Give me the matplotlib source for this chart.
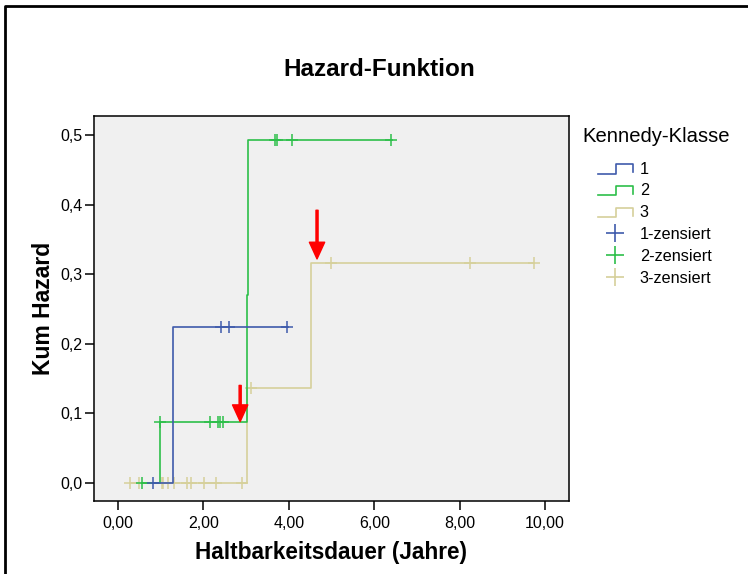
import numpy as np
import matplotlib
matplotlib.use("Agg")
import matplotlib.pyplot as plt
from matplotlib.lines import Line2D
from matplotlib.legend_handler import HandlerBase

plt.rcParams['font.family'] = ['Liberation Sans', 'DejaVu Sans']

# ---- data ----
classes = ['1', '2', '3']
step_t1 = [0.82, 1.28, 3.98]
step_h1 = [0.0, 0.224, 0.224]
step_t2 = [0.57, 0.99, 3.02, 3.04, 6.42]
step_h2 = [0.0, 0.088, 0.27, 0.493, 0.493]
step_t3 = [0.27, 3.02, 4.52, 9.74]
step_h3 = [0.0, 0.136, 0.316, 0.316]
cens_t1 = [0.82, 2.41, 2.60, 3.96]
cens_t2 = [0.57, 0.99, 2.15, 2.33, 2.38, 2.45, 3.68, 3.72, 4.07, 6.40]
cens_t3 = [0.27, 0.49, 1.03, 1.06, 1.17, 1.31, 1.62, 1.71, 2.01, 2.30, 2.90,
           3.11, 4.99, 8.24, 9.74]
arrow_x = [2.86, 4.66]
arrow_tail_y = [0.14, 0.392]
arrow_tip_y = [0.088, 0.322]
xticks = [0, 2, 4, 6, 8, 10]
xticklabels = ['0,00', '2,00', '4,00', '6,00', '8,00', '10,00']
yticks = [0.0, 0.1, 0.2, 0.3, 0.4, 0.5]
yticklabels = ['0,0', '0,1', '0,2', '0,3', '0,4', '0,5']

colors = ['#3f5bab', '#2dbf4a', '#d6d09b']

steps_t = [step_t1, step_t2, step_t3]
steps_h = [step_h1, step_h2, step_h3]
cens_t = [cens_t1, cens_t2, cens_t3]

fig = plt.figure(figsize=(7.48, 5.74), dpi=100)
ax = fig.add_axes([93.5 / 748, 1 - 501 / 574, (569 - 93.5) / 748, (501 - 116) / 574])
ax.set_facecolor('#f0f0f0')

def hazard_at(t_steps, h_steps, t):
    idx = np.searchsorted(np.asarray(t_steps), np.asarray(t), side='right') - 1
    idx = np.clip(idx, 0, len(h_steps) - 1)
    return np.asarray(h_steps)[idx]

for i in [2, 1, 0]:
    ax.step(steps_t[i], steps_h[i], where='post', color=colors[i], lw=1.2, zorder=2 + (2 - i))
    ch = hazard_at(steps_t[i], steps_h[i], cens_t[i])
    ax.plot(cens_t[i], ch, linestyle='none', marker='+', markersize=8, mew=1.1,
            color=colors[i], zorder=2 + (2 - i))

for xa, yt, yh in zip(arrow_x, arrow_tail_y, arrow_tip_y):
    ax.annotate('', xy=(xa, yh), xytext=(xa, yt),
                arrowprops=dict(facecolor='#ff0000', edgecolor='#ff0000', width=1.5,
                                headwidth=11, headlength=12, shrink=0), zorder=10)

ax.set_xlim(-0.574, 10.56)
ax.set_ylim(-0.0263, 0.5276)
ax.set_xticks(xticks)
ax.set_xticklabels(xticklabels)
ax.set_yticks(yticks)
ax.set_yticklabels(yticklabels)
ax.tick_params(direction='out', length=6.5, width=1.1, labelsize=11.5, colors='black')
ax.tick_params(axis='y', pad=1.5)
ax.tick_params(axis='x', pad=4.5)
for s in ax.spines.values():
    s.set_linewidth(1.1)

ax.set_xlabel('Haltbarkeitsdauer (Jahre)', fontsize=16.3, fontweight='bold', labelpad=7)
ax.set_ylabel('Kum Hazard', fontsize=16.5, fontweight='bold', labelpad=3.5)
fig.text(379 / 748, 1 - 70 / 574, 'Hazard-Funktion', fontsize=17.5, fontweight='bold',
         ha='center', va='center')

class StepHandler(HandlerBase):
    def create_artists(self, legend, orig_handle, xdescent, ydescent, width, height,
                       fontsize, trans):
        x0 = -xdescent
        y0 = -ydescent
        xs = [x0, x0 + 0.53 * width, x0 + 0.53 * width, x0 + width, x0 + width]
        ys = [y0 + 0.0 * height, y0 + 0.0 * height, y0 + 0.85 * height,
              y0 + 0.85 * height, y0 + 0.15 * height]
        ln = Line2D(xs, ys, color=orig_handle.get_color(), lw=1.2, transform=trans)
        return [ln]

class StepKey:
    def __init__(self, color):
        self.color = color
    def get_color(self):
        return self.color

handles = [StepKey(c) for c in colors]
handles += [Line2D([], [], linestyle='none', marker='+', markersize=13, mew=1.2, color=c)
            for c in colors]
labels = classes + [c + '-zensiert' for c in classes]
leg = fig.legend(handles, labels, loc='upper left',
                 bbox_to_anchor=(583 / 748, 1 - 147 / 574), frameon=False,
                 fontsize=11.7, handlelength=2.15, handletextpad=0.45,
                 labelspacing=0.42, handler_map={StepKey: StepHandler()})
fig.text(656 / 748, 1 - 137 / 574, 'Kennedy-Klasse', fontsize=14.6,
         ha='center', va='center')

# figure frame
fig.add_artist(Line2D([5 / 748, 5 / 748, 1.0], [0.0, 1 - 6 / 574, 1 - 6 / 574],
                      color='black', lw=2, transform=fig.transFigure))

fig.savefig('out.png', dpi=100)
